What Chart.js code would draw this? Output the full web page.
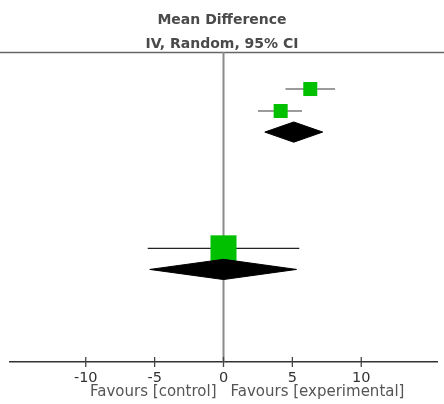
<!DOCTYPE html>
<html>
<head>
<meta charset="utf-8">
<script src="https://cdn.jsdelivr.net/npm/chart.js@4/dist/chart.umd.min.js"></script>
<style>
  html, body { margin: 0; padding: 0; background: #fff; }
  #wrap { width: 444px; height: 404px; }
</style>
</head>
<body>
<div id="wrap"><canvas id="forest"></canvas></div>
<script>
// studies (mean difference, 95% CI, weight) and row position on the plot
var studyRow = [1.72, 2.74, 9.12];
var studyMD = [6.3, 4.15, 0];
var studyLo = [4.5, 2.5, -5.5];
var studyHi = [8.1, 5.7, 5.5];
var studyWeight = [29, 29, 100];

// pooled (random effects) diamonds
var pooledRow = [3.72, 10.1];
var pooledMD = [5.1, 0];
var pooledLo = [3.0, -5.35];
var pooledHi = [7.2, 5.3];

var xTicks = [-10, -5, 0, 5, 10];
var titleLines = ['Mean Difference', 'IV, Random, 95% CI'];
var favourLeft = 'Favours [control]';
var favourRight = 'Favours [experimental]';

var DIAMOND_H = 0.47;  // half height in row units
var FONT = "'DejaVu Sans', sans-serif";

var datasets = [];

// squares on top of their CI lines
datasets.push({
  type: 'scatter',
  order: 2,
  data: studyMD.map(function (v, i) { return { x: v, y: studyRow[i] }; }),
  pointStyle: 'rect',
  pointRadius: studyWeight.map(function (w) { return 18.4 * Math.sqrt(w / 100); }),
  pointHoverRadius: studyWeight.map(function (w) { return 18.4 * Math.sqrt(w / 100); }),
  backgroundColor: '#00c000',
  borderWidth: 0
});

var ciColor = ['#7a7a7a', '#7a7a7a', '#222'];
studyMD.forEach(function (v, i) {
  datasets.push({
    type: 'line',
    order: 3,
    data: [{ x: studyLo[i], y: studyRow[i] }, { x: studyHi[i], y: studyRow[i] }],
    borderColor: ciColor[i],
    borderWidth: i < 2 ? 1.6 : 1.3,
    pointRadius: 0,
    fill: false
  });
});

pooledMD.forEach(function (v, i) {
  var r = pooledRow[i];
  datasets.push({
    type: 'line',
    order: 1,
    data: [
      { x: pooledLo[i], y: r },
      { x: v, y: r - DIAMOND_H },
      { x: pooledHi[i], y: r },
      { x: v, y: r + DIAMOND_H },
      { x: pooledLo[i], y: r }
    ],
    borderColor: '#000',
    backgroundColor: '#000',
    borderWidth: 1,
    pointRadius: 0,
    tension: 0,
    fill: 'shape'
  });
});

var forestDecor = {
  id: 'forestDecor',
  beforeDatasetsDraw: function (chart) {
    var ctx = chart.ctx, area = chart.chartArea;
    var xs = chart.scales.x;
    var x0 = xs.getPixelForValue(0);
    ctx.save();
    // top rule
    ctx.strokeStyle = '#666';
    ctx.lineWidth = 1.5;
    ctx.beginPath();
    ctx.moveTo(0, area.top + 0.5);
    ctx.lineTo(chart.width, area.top + 0.5);
    ctx.stroke();
    // line of no effect
    ctx.strokeStyle = '#8a8a8a';
    ctx.lineWidth = 2;
    ctx.beginPath();
    ctx.moveTo(x0, area.top);
    ctx.lineTo(x0, area.bottom);
    ctx.stroke();
    ctx.restore();
  },
  afterDraw: function (chart) {
    var ctx = chart.ctx, area = chart.chartArea;
    var xs = chart.scales.x;
    var x0 = xs.getPixelForValue(0);
    ctx.save();
    // tick marks crossing the axis
    ctx.strokeStyle = '#444';
    ctx.lineWidth = 1.3;
    xs.ticks.forEach(function (t) {
      var px = xs.getPixelForValue(t.value);
      ctx.beginPath();
      ctx.moveTo(px, area.bottom - 5);
      ctx.lineTo(px, area.bottom + 5);
      ctx.stroke();
    });
    // header
    ctx.fillStyle = '#4a4a4a';
    ctx.textAlign = 'center';
    ctx.textBaseline = 'middle';
    ctx.font = 'bold 14px ' + FONT;
    ctx.fillText(titleLines[0], chart.width / 2, 20);
    ctx.fillText(titleLines[1], chart.width / 2, 44);
    // favours labels
    ctx.font = '15px ' + FONT;
    ctx.fillStyle = '#555';
    ctx.textAlign = 'right';
    ctx.fillText(favourLeft, x0 - 7, 392);
    ctx.textAlign = 'left';
    ctx.fillText(favourRight, x0 + 7, 392);
    ctx.restore();
  }
};

new Chart(document.getElementById('forest'), {
  type: 'scatter',
  data: { datasets: datasets },
  options: {
    responsive: true,
    maintainAspectRatio: false,
    animation: false,
    layout: { autoPadding: false, padding: { top: 52, left: 10, right: 7, bottom: 0 } },
    plugins: {
      legend: { display: false },
      tooltip: { enabled: false }
    },
    scales: {
      x: {
        type: 'linear',
        min: -15.5,
        max: 15.5,
        afterBuildTicks: function (scale) {
          scale.ticks = xTicks.map(function (v) { return { value: v }; });
        },
        afterFit: function (scale) { scale.height = 42; },
        grid: { display: false },
        border: { display: true, color: '#333', width: 1.5 },
        ticks: {
          color: '#333',
          padding: 0,
          maxRotation: 0,
          font: { family: FONT, size: 14.5 }
        }
      },
      y: {
        type: 'linear',
        display: false,
        reverse: true,
        min: 0,
        max: 14.4
      }
    }
  },
  plugins: [forestDecor]
});
</script>
</body>
</html>
